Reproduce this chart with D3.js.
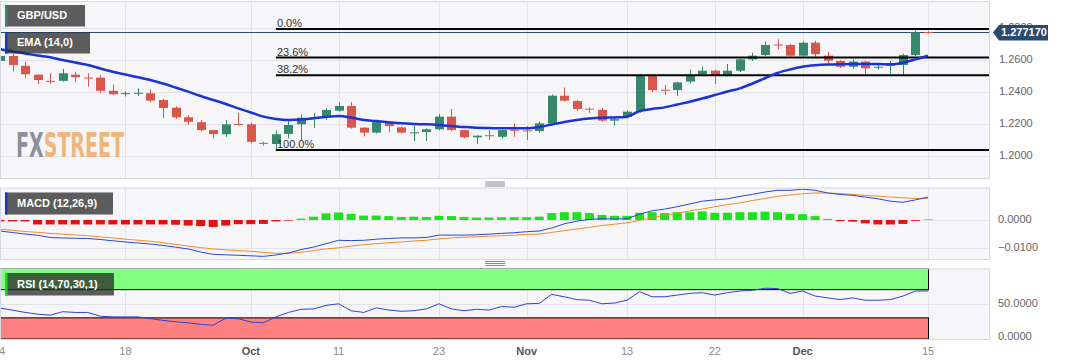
<!DOCTYPE html>
<html><head><meta charset="utf-8">
<script src="https://cdn.jsdelivr.net/npm/d3@7"></script>
<style>
body{margin:0;background:#fff;}
svg{display:block;font-family:Arial,"Liberation Sans",sans-serif;}
</style>
</head><body>
<svg id="c" width="1067" height="360"></svg>
<script>
// ---------------- DATA ----------------
const dates = [
"2023-09-04","2023-09-05","2023-09-06","2023-09-07","2023-09-08","2023-09-11","2023-09-12","2023-09-13","2023-09-14","2023-09-15",
"2023-09-18","2023-09-19","2023-09-20","2023-09-21","2023-09-22","2023-09-25","2023-09-26","2023-09-27","2023-09-28","2023-09-29",
"2023-10-02","2023-10-03","2023-10-04","2023-10-05","2023-10-06","2023-10-09","2023-10-10","2023-10-11","2023-10-12","2023-10-13",
"2023-10-16","2023-10-17","2023-10-18","2023-10-19","2023-10-20","2023-10-23","2023-10-24","2023-10-25","2023-10-26","2023-10-27",
"2023-10-30","2023-10-31","2023-11-01","2023-11-02","2023-11-03","2023-11-06","2023-11-07","2023-11-08","2023-11-09","2023-11-10",
"2023-11-13","2023-11-14","2023-11-15","2023-11-16","2023-11-17","2023-11-20","2023-11-21","2023-11-22","2023-11-23","2023-11-24",
"2023-11-27","2023-11-28","2023-11-29","2023-11-30","2023-12-01","2023-12-04","2023-12-05","2023-12-06","2023-12-07","2023-12-08",
"2023-12-11","2023-12-12","2023-12-13","2023-12-14","2023-12-15"];

const opens = [1.2594,1.2625,1.2564,1.2508,1.2470,1.2470,1.2508,1.2490,1.2490,1.2408,
1.2389,1.2390,1.2392,1.2350,1.2302,1.2242,1.2211,1.2162,1.2136,1.2200,
1.2198,1.2082,1.2075,1.2138,1.2198,1.2236,1.2242,1.2283,1.2313,1.2177,
1.2146,1.2211,1.2179,1.2145,1.2150,1.2167,1.2246,1.2162,1.2117,1.2130,
1.2120,1.2164,1.2160,1.2156,1.2204,1.2377,1.2344,1.2296,1.2288,1.2221,
1.2244,1.2283,1.2506,1.2414,1.2412,1.2465,1.2512,1.2533,1.2500,1.2533,
1.2604,1.2631,1.2697,1.2694,1.2627,1.2708,1.2627,1.2594,1.2558,1.2590,
1.2555,1.2567,1.2569,1.2631,1.2775];
const highs = [1.2645,1.2640,1.2589,1.2510,1.2517,1.2544,1.2527,1.2517,1.2506,1.2448,
1.2405,1.2423,1.2417,1.2357,1.2310,1.2255,1.2225,1.2165,1.2225,1.2270,
1.2208,1.2090,1.2160,1.2225,1.2260,1.2269,1.2300,1.2336,1.2337,1.2180,
1.2216,1.2215,1.2185,1.2190,1.2172,1.2262,1.2294,1.2165,1.2130,1.2162,
1.2165,1.2204,1.2187,1.2215,1.2385,1.2428,1.2350,1.2305,1.2300,1.2235,
1.2285,1.2510,1.2510,1.2444,1.2465,1.2540,1.2560,1.2540,1.2575,1.2610,
1.2645,1.2715,1.2729,1.2700,1.2715,1.2720,1.2650,1.2600,1.2605,1.2595,
1.2575,1.2595,1.2640,1.2794,1.2780];
const lows = [1.2580,1.2527,1.2486,1.2450,1.2450,1.2465,1.2460,1.2433,1.2392,1.2380,
1.2372,1.2375,1.2335,1.2237,1.2232,1.2195,1.2155,1.2110,1.2120,1.2192,
1.2080,1.2065,1.2037,1.2110,1.2100,1.2175,1.2226,1.2277,1.2172,1.2123,
1.2140,1.2148,1.2140,1.2094,1.2094,1.2160,1.2155,1.2110,1.2075,1.2100,
1.2110,1.2120,1.2100,1.2145,1.2195,1.2340,1.2280,1.2270,1.2215,1.2190,
1.2235,1.2270,1.2400,1.2381,1.2375,1.2455,1.2500,1.2450,1.2495,1.2525,
1.2595,1.2625,1.2667,1.2612,1.2615,1.2610,1.2580,1.2550,1.2545,1.2505,
1.2540,1.2515,1.2505,1.2625,1.2765];
const closes = [1.2625,1.2569,1.2511,1.2475,1.2466,1.2517,1.2492,1.2487,1.2408,1.2386,
1.2393,1.2395,1.2346,1.2300,1.2242,1.2214,1.2162,1.2137,1.2198,1.2198,
1.2089,1.2077,1.2136,1.2194,1.2239,1.2240,1.2288,1.2313,1.2177,1.2146,
1.2211,1.2187,1.2146,1.2148,1.2167,1.2246,1.2162,1.2117,1.2127,1.2127,
1.2162,1.2161,1.2158,1.2204,1.2377,1.2346,1.2294,1.2294,1.2221,1.2230,
1.2277,1.2506,1.2412,1.2412,1.2460,1.2506,1.2533,1.2500,1.2533,1.2604,
1.2627,1.2694,1.2694,1.2627,1.2708,1.2636,1.2596,1.2558,1.2590,1.2548,
1.2558,1.2569,1.2631,1.2773,1.2772];

const ema14 = [1.2667,1.2653,1.2641,1.2628,1.2617,1.2600,1.2584,1.2569,1.2547,1.2527,
1.2509,1.2492,1.2475,1.2453,1.2428,1.2402,1.2375,1.2350,1.2325,1.2298,
1.2272,1.2246,1.2231,1.2225,1.2228,1.2236,1.2244,1.2250,1.2241,1.2225,
1.2219,1.2211,1.2204,1.2200,1.2198,1.2194,1.2188,1.2181,1.2177,1.2175,
1.2173,1.2173,1.2173,1.2181,1.2197,1.2213,1.2225,1.2234,1.2239,1.2241,
1.2246,1.2281,1.2294,1.2304,1.2322,1.2339,1.2359,1.2381,1.2403,1.2423,
1.2453,1.2486,1.2519,1.2541,1.2558,1.2567,1.2572,1.2574,1.2575,1.2575,
1.2575,1.2573,1.2583,1.2604,1.2627];

const macdLine = [-0.00396,-0.00450,-0.00504,-0.00550,-0.00630,-0.00647,-0.00658,-0.00665,-0.00701,-0.00748,
-0.00791,-0.00827,-0.00863,-0.00917,-0.00978,-0.01043,-0.01151,-0.01237,-0.01252,-0.01270,
-0.01288,-0.01309,-0.01259,-0.01187,-0.01065,-0.00975,-0.00853,-0.00730,-0.00741,-0.00730,
-0.00691,-0.00665,-0.00644,-0.00644,-0.00630,-0.00543,-0.00543,-0.00543,-0.00532,-0.00507,
-0.00482,-0.00457,-0.00421,-0.00396,-0.00288,-0.00137,-0.00040,0.00022,0.00047,0.00036,
0.00047,0.00209,0.00331,0.00392,0.00478,0.00576,0.00676,0.00723,0.00763,0.00849,
0.00921,0.01007,0.01068,0.01068,0.01108,0.01068,0.00971,0.00921,0.00885,0.00824,
0.00763,0.00676,0.00637,0.00723,0.00824];
const signalLine = [-0.00331,-0.00371,-0.00414,-0.00442,-0.00482,-0.00511,-0.00540,-0.00568,-0.00608,-0.00647,
-0.00691,-0.00727,-0.00766,-0.00820,-0.00881,-0.00939,-0.00993,-0.01040,-0.01072,-0.01101,
-0.01126,-0.01162,-0.01198,-0.01198,-0.01162,-0.01101,-0.01040,-0.01000,-0.00939,-0.00888,
-0.00853,-0.00817,-0.00791,-0.00755,-0.00730,-0.00680,-0.00644,-0.00619,-0.00604,-0.00579,
-0.00568,-0.00543,-0.00518,-0.00507,-0.00446,-0.00385,-0.00324,-0.00263,-0.00198,-0.00151,
-0.00101,-0.00014,0.00083,0.00169,0.00245,0.00331,0.00392,0.00478,0.00550,0.00615,
0.00701,0.00773,0.00849,0.00896,0.00946,0.00971,0.00971,0.00946,0.00921,0.00885,
0.00860,0.00824,0.00799,0.00773,0.00780];
const macdHist = [-0.0005,-0.0005,-0.0005,-0.0016,-0.0016,-0.0016,-0.0016,-0.0016,-0.0016,-0.0016,
-0.0016,-0.0016,-0.0016,-0.0016,-0.0017,-0.0020,-0.0022,-0.0025,-0.0020,-0.0015,
-0.0015,-0.0014,-0.0005,-0.0001,0.0005,0.0012,0.0024,0.0027,0.0022,0.0016,
0.0016,0.0014,0.0011,0.0012,0.0011,0.0015,0.0014,0.0011,0.0009,0.0009,
0.0010,0.0010,0.0010,0.0012,0.0025,0.0028,0.0028,0.0025,0.0018,0.0015,
0.0015,0.0026,0.0028,0.0025,0.0028,0.0028,0.0031,0.0026,0.0026,0.0028,
0.0028,0.0030,0.0028,0.0022,0.0021,0.0014,0.0004,-0.0004,-0.0006,-0.0012,
-0.0016,-0.0016,-0.0014,-0.0003,0.0002];

const rsi14 = [43.7,41.0,37.7,35.3,33.8,38.7,37.7,37.7,32.3,31.4,
31.4,31.4,28.9,26.4,24.4,23.0,20.6,19.6,29.4,28.9,
24.0,23.0,31.4,37.7,42.1,42.7,47.6,50.0,40.1,37.7,
44.1,41.1,39.3,40.1,42.7,50.0,42.7,40.1,42.1,41.1,
46.1,45.1,50.0,50.5,63.3,59.9,55.9,55.0,50.0,51.0,
55.0,67.1,59.9,59.9,62.3,64.7,65.7,62.3,65.7,68.1,
69.1,72.0,71.6,64.7,68.1,60.9,58.3,55.9,58.3,55.0,
55.0,55.9,60.9,68.1,68.1];

const priceTicks = [1.20, 1.22, 1.24, 1.26, 1.28];
const macdTicks = [0, -0.01];
const rsiTicks = [50, 0];
const xTickDates = ["2023-09-04","2023-09-18","2023-10-02","2023-10-11","2023-10-23","2023-11-01","2023-11-13","2023-11-22","2023-12-01","2023-12-15"];
const xTickLabels = ["4","18","Oct","11","23","Nov","13","22","Dec","15"];
const monthLabels = ["Oct","Nov","Dec"];
const fibLevels = [0, 0.236, 0.382, 1.0];
const fibLabels = ["0.0%","23.6%","38.2%","100.0%"];
const fibHigh = 1.2794, fibLow = 1.2037, fibStartDate = "2023-10-04";
const lastPrice = 1.277170;
const rsiUpper = 70, rsiLower = 30;

// ---------------- LAYOUT ----------------
const svg = d3.select("#c");
const plotL = 0, plotR = 990;
const pricePanel = {top: 1, bottom: 178};
const macdPanel = {top: 187.5, bottom: 259};
const rsiPanel = {top: 268.5, bottom: 339};

const x = d3.scalePoint().domain(dates).range([0, 928]);
const yP = d3.scaleLinear().domain([1.18625, 1.296875]).range([pricePanel.bottom, pricePanel.top]);
const yM = d3.scaleLinear().domain([-0.01403, 0.01169]).range([macdPanel.bottom, macdPanel.top]);
const yR = d3.scaleLinear().domain([0, 100]).range([rsiPanel.bottom, rsiPanel.top]);

const defs = svg.append("defs");
function panel(p, id, yScale, ticks){
  defs.append("clipPath").attr("id", id).append("rect")
    .attr("x", plotL).attr("y", p.top).attr("width", plotR - plotL).attr("height", p.bottom - p.top);
  const g = svg.append("g");
  g.append("rect").attr("x", plotL).attr("y", p.top).attr("width", plotR - plotL).attr("height", p.bottom - p.top)
    .attr("fill", "#f6f6f8");
  const gg = g.append("g").attr("clip-path", `url(#${id})`);
  gg.selectAll("line.h").data(ticks).join("line")
    .attr("x1", plotL).attr("x2", plotR)
    .attr("y1", d => Math.round(yScale(d)) + 0.5).attr("y2", d => Math.round(yScale(d)) + 0.5)
    .attr("stroke", "#e1e3e8").attr("stroke-width", 1);
  gg.selectAll("line.v").data(xTickDates).join("line")
    .attr("x1", d => Math.round(x(d)) + 0.5).attr("x2", d => Math.round(x(d)) + 0.5)
    .attr("y1", p.top).attr("y2", p.bottom)
    .attr("stroke", "#e1e3e8").attr("stroke-width", 1);
  return {g, gg};
}

// ---- price panel
const pp = panel(pricePanel, "clipP", yP, priceTicks);
// watermark (one text, two colours)
const wm = pp.gg.append("text").attr("x", 16).attr("y", 157).attr("font-size", 34).attr("font-weight", "bold")
  .attr("font-family", "'Liberation Sans Narrow','DejaVu Sans Condensed',Arial,sans-serif")
  .attr("textLength", 108).attr("lengthAdjust", "spacingAndGlyphs");
wm.append("tspan").attr("fill", "#8e8e9a").text("FX");
wm.append("tspan").attr("fill", "#efb57a").text("STREET");

// last price line
pp.gg.append("line").attr("x1", plotL).attr("x2", plotR)
  .attr("y1", yP(lastPrice)).attr("y2", yP(lastPrice)).attr("stroke", "#2c4a6e").attr("stroke-width", 1);

// candles
const idx = d3.range(dates.length);
const bw = 9;
const candles = pp.gg.append("g");
candles.selectAll("line.wick").data(idx).join("line")
  .attr("x1", i => Math.round(x(dates[i])) + 0.5).attr("x2", i => Math.round(x(dates[i])) + 0.5)
  .attr("y1", i => yP(highs[i])).attr("y2", i => yP(lows[i]))
  .attr("stroke", i => closes[i] >= opens[i] ? "#37876c" : "#d9574a").attr("stroke-width", 1);
candles.selectAll("rect.body").data(idx).join("rect")
  .attr("x", i => Math.round(x(dates[i])) + 0.5 - bw / 2)
  .attr("width", bw)
  .attr("y", i => yP(Math.max(opens[i], closes[i])))
  .attr("height", i => Math.max(1, Math.abs(yP(opens[i]) - yP(closes[i]))))
  .attr("fill", i => closes[i] >= opens[i] ? "#37876c" : "#d9574a");

// fib lines
const fibX0 = x(fibStartDate);
const fibG = pp.gg.append("g");
fibLevels.forEach((lv, k) => {
  const v = fibHigh - lv * (fibHigh - fibLow);
  fibG.append("line").attr("x1", fibX0).attr("x2", plotR).attr("y1", yP(v)).attr("y2", yP(v))
    .attr("stroke", "#000").attr("stroke-width", 2);
  fibG.append("text").attr("x", fibX0 + 1).attr("y", yP(v) - 2).attr("font-size", 11)
    .attr("fill", "#333").text(fibLabels[k]);
});

// EMA
pp.gg.append("path").datum(idx)
  .attr("d", d3.line().x(i => x(dates[i])).y(i => yP(ema14[i])).curve(d3.curveMonotoneX))
  .attr("fill", "none").attr("stroke", "#1b33d6").attr("stroke-width", 2.5);

pp.g.append("rect").attr("x", plotL + 0.5).attr("y", pricePanel.top + 0.5)
  .attr("width", plotR - plotL - 1).attr("height", pricePanel.bottom - pricePanel.top)
  .attr("fill", "none").attr("stroke", "#d6d9e0");

// ---- MACD panel
const mp = panel(macdPanel, "clipM", yM, macdTicks);
mp.gg.selectAll("rect.h").data(idx).join("rect")
  .attr("x", i => x(dates[i]) - 4.5).attr("width", 9)
  .attr("y", i => Math.min(yM(0), yM(macdHist[i])))
  .attr("height", i => Math.max(0.6, Math.abs(yM(macdHist[i]) - yM(0))))
  .attr("fill", i => macdHist[i] >= 0 ? "#1ee21e" : "#e51010");
mp.gg.append("path").datum(idx)
  .attr("d", d3.line().x(i => x(dates[i])).y(i => yM(signalLine[i])))
  .attr("fill", "none").attr("stroke", "#f08a2a").attr("stroke-width", 1);
mp.gg.append("path").datum(idx)
  .attr("d", d3.line().x(i => x(dates[i])).y(i => yM(macdLine[i])))
  .attr("fill", "none").attr("stroke", "#2a45d8").attr("stroke-width", 1);
mp.g.append("rect").attr("x", plotL + 0.5).attr("y", macdPanel.top + 0.5)
  .attr("width", plotR - plotL - 1).attr("height", macdPanel.bottom - macdPanel.top)
  .attr("fill", "none").attr("stroke", "#d6d9e0");

// ---- RSI panel
const rp = panel(rsiPanel, "clipR", yR, rsiTicks);
const zx0 = x(dates[0]), zx1 = x(dates[dates.length - 1]);
rp.gg.append("rect").attr("x", zx0 + 0.5).attr("width", zx1 - zx0)
  .attr("y", yR(100)).attr("height", yR(rsiUpper) - yR(100))
  .attr("fill", "#80ff80").attr("stroke", "#000").attr("stroke-width", 1);
rp.gg.append("rect").attr("x", zx0 + 0.5).attr("width", zx1 - zx0)
  .attr("y", yR(rsiLower)).attr("height", yR(0) - yR(rsiLower))
  .attr("fill", "#ff8080").attr("stroke", "#000").attr("stroke-width", 1);
rp.gg.append("path").datum(idx)
  .attr("d", d3.line().x(i => x(dates[i])).y(i => yR(rsi14[i])))
  .attr("fill", "none").attr("stroke", "#3042cf").attr("stroke-width", 1);
rp.g.append("rect").attr("x", plotL + 0.5).attr("y", rsiPanel.top + 0.5)
  .attr("width", plotR - plotL - 1).attr("height", rsiPanel.bottom - rsiPanel.top)
  .attr("fill", "none").attr("stroke", "#d6d9e0");

// ---- separators
[181.5, 261].forEach(y0 => {
  [0, 2, 4].forEach(dy => {
    svg.append("line").attr("x1", 485).attr("x2", 505).attr("y1", y0 + dy + 0.5).attr("y2", y0 + dy + 0.5)
      .attr("stroke", "#8a8a8a").attr("stroke-width", 1);
  });
});

// ---- axes (right)
const fmt4 = d3.format(".4f");
const axisG = svg.append("g").attr("font-size", 11).attr("fill", "#666");
axisG.selectAll("text.p").data(priceTicks).join("text")
  .attr("x", 999).attr("y", d => yP(d)).attr("dominant-baseline", "middle").text(d => fmt4(d));
axisG.selectAll("text.m").data(macdTicks).join("text")
  .attr("x", 998).attr("y", d => yM(d)).attr("dominant-baseline", "middle").text(d => fmt4(d));
axisG.selectAll("text.r").data(rsiTicks).join("text")
  .attr("x", 998).attr("y", d => Math.min(yR(d), 337.5)).attr("dominant-baseline", "middle").text(d => fmt4(d));

// last price tag
const ty = yP(lastPrice);
svg.append("path")
  .attr("d", `M993,${ty} L999,${ty - 7.5} L1048,${ty - 7.5} L1048,${ty + 8} L999,${ty + 8} Z`)
  .attr("fill", "#2c4a6e");
svg.append("text").attr("x", 1001).attr("y", ty + 0.5).attr("dominant-baseline", "middle")
  .attr("font-size", 11).attr("font-weight", "bold").attr("fill", "#fff").text(d3.format(".6f")(lastPrice));

// x axis labels
svg.append("g").selectAll("text").data(xTickDates).join("text")
  .attr("x", (d, k) => k === 0 ? x(d) + 2 : x(d)).attr("y", 352).attr("text-anchor", "middle").attr("dominant-baseline", "middle")
  .attr("font-size", 11)
  .attr("font-weight", (d, k) => monthLabels.includes(xTickLabels[k]) ? "bold" : "normal")
  .attr("fill", (d, k) => monthLabels.includes(xTickLabels[k]) ? "#555" : "#8a8a8a")
  .text((d, k) => xTickLabels[k]);

// ---- legend boxes
function labelBox(x0, y0, w, h, accent, txt){
  svg.append("rect").attr("x", x0).attr("y", y0).attr("width", w).attr("height", h).attr("fill", "rgba(40,40,40,0.75)");
  svg.append("rect").attr("x", x0).attr("y", y0).attr("width", 2.5).attr("height", h).attr("fill", accent);
  svg.append("text").attr("x", x0 + 12).attr("y", y0 + h / 2 + 0.5).attr("dominant-baseline", "middle")
    .attr("font-size", 11).attr("font-weight", "bold").attr("fill", "#fff").text(txt);
}
labelBox(5, 5, 80, 21.5, "#2f8a68", "GBP/USD");
labelBox(5, 32.5, 85, 21, "#1b33d6", "EMA (14,0)");
labelBox(5, 192.5, 108, 22, "#1b33d6", "MACD (12,26,9)");
labelBox(5, 273, 109, 22.5, "#10e010", "RSI (14,70,30,1)");
</script>
</body></html>
